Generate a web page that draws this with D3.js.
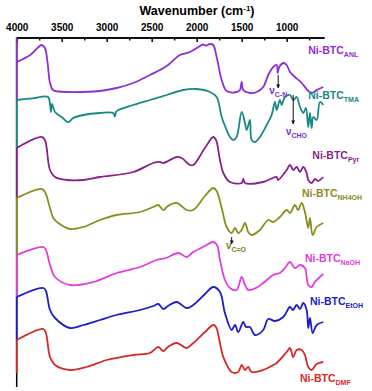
<!DOCTYPE html>
<html>
<head>
<meta charset="utf-8">
<script src="https://cdn.jsdelivr.net/npm/d3@7"></script>
<style>
  body { margin: 0; background: #fff; }
  svg { display: block; font-family: "Liberation Sans", Arial, sans-serif; font-weight: bold; }
</style>
</head>
<body>
<div id="chart"></div>
<script>
// FTIR spectra, stacked. [wavenumber (cm-1), transmittance (a.u., offset)]
const ANL = [[4000,323],[3850,330],[3722,340],[3686,337],[3658,323],[3630,302],[3597,295],[3540,293.5],[3444,293],[3075,294],[2889,297],[2705,302],[2519,310],[2333,319],[2186,330],[2075,333],[1963,339],[1930,340.5],[1896,339.5],[1852,341],[1816,340],[1778,328],[1722,305],[1667,294],[1556,293],[1519,295],[1500,303],[1482,295],[1408,292],[1333,293],[1260,298],[1205,310],[1149,318],[1111,320],[1100,312],[1082,318],[1037,322],[1000,320],[963,313],[908,308],[833,302],[760,294],[722,292],[667,295],[593,298]];
const TMA = [[4000,285],[3820,286.7],[3652,288],[3630,281],[3619,273],[3608,281],[3574,273],[3500,268],[3427,263],[3371,267],[3260,270],[3075,272],[2927,272],[2908,268.5],[2897,273],[2871,275],[2705,280],[2519,285],[2333,290],[2149,295],[2000,296],[1852,293],[1778,288],[1722,268],[1667,255],[1630,248],[1593,245],[1556,248],[1500,273],[1463,262],[1444,255],[1408,265],[1389,245],[1352,243],[1297,248],[1222,260],[1167,270],[1130,283],[1111,275],[1075,285],[1056,280],[1019,288],[963,290],[927,285],[889,288],[852,278],[815,272],[786,277],[760,258],[741,272],[722,257],[704,268],[667,265],[630,283],[593,280]];
const PYR = [[4000,237],[3722,248],[3686,245],[3630,215],[3574,208],[3444,205],[3260,205],[3075,208],[2705,213],[2482,222],[2408,223],[2371,222],[2222,228],[2167,227],[2075,220],[2038,220],[1908,237],[1816,248],[1785,245],[1741,225],[1704,212],[1630,203],[1500,202],[1482,206],[1463,202],[1260,203],[1111,208],[1097,205],[1000,215],[963,220],[927,215],[889,218],[852,213],[815,218],[778,212],[760,205],[722,202],[686,206],[652,204],[593,208]];
const NH4OH = [[4000,187],[3722,196],[3686,193],[3630,177],[3593,167],[3538,162],[3408,156],[3260,158],[3075,165],[2889,170],[2630,173],[2482,178],[2427,180],[2371,175],[2319,179],[2222,182],[2111,175],[2038,175],[1908,189],[1816,197],[1778,194],[1722,177],[1667,158],[1611,152],[1574,157],[1538,152],[1500,155],[1463,162],[1427,153],[1389,150],[1297,155],[1205,165],[1149,163],[1075,168],[1000,175],[963,172],[908,180],[874,175],[833,182],[797,173],[760,157],[741,167],[711,150],[667,158],[593,162]];
const NAOH = [[4000,130],[3704,138],[3675,135],[3630,120],[3574,108],[3408,100],[3149,103],[2889,112],[2630,118],[2444,125],[2341,127],[2205,132],[2111,128],[2038,133],[1908,139],[1816,143],[1774,140],[1741,125],[1686,105],[1630,97],[1556,95],[1500,108],[1463,100],[1427,95],[1341,97],[1260,102],[1149,110],[1075,112],[1019,117],[963,123],[908,117],[852,120],[797,117],[760,100],[722,98],[686,103],[593,111]];
const ETOH = [[4000,88],[3704,97],[3675,94],[3630,75],[3574,67],[3408,57],[3260,60],[3075,65],[2889,70],[2630,75],[2482,79],[2427,81],[2371,76],[2319,79],[2222,83],[2111,77],[2038,80],[1908,91],[1816,98],[1741,93],[1686,72],[1611,55],[1574,60],[1538,53],[1482,63],[1452,58],[1408,58],[1352,50],[1260,55],[1205,66],[1130,64],[1037,68],[963,78],[930,75],[889,80],[852,76],[815,82],[778,75],[760,57],[741,67],[711,52],[667,60],[593,63]];
const DMF = [[4000,45],[3704,56],[3675,52],[3630,28],[3574,20],[3408,15],[3222,18],[3000,25],[2705,30],[2519,32],[2427,38],[2371,34],[2319,38],[2222,42],[2111,37],[2038,42],[1908,53],[1816,60],[1785,58],[1704,28],[1611,13],[1538,13],[1500,20],[1463,15],[1427,18],[1389,13],[1260,15],[1149,20],[1111,22],[1000,33],[963,37],[927,28],[889,35],[833,35],[797,30],[760,18],[722,15],[667,21],[593,23]];

const seriesData = [ANL, TMA, PYR, NH4OH, NAOH, ETOH, DMF];
const seriesNames = ["ANL", "TMA", "Pyr", "NH4OH", "NaOH", "EtOH", "DMF"];
const majorTicks = [4000, 3500, 3000, 2500, 2000, 1500, 1000];
const minorTicks = [3750, 3250, 2750, 2250, 1750, 1250, 750];

// label anchors [wavenumber, a.u.]
const labelAt = [[760,331],[760,286],[715,226],[830,188],[797,123],[741,80],[852,3]];
const colors = ["#8e2fd6", "#168a84", "#8b1f8b", "#8c8c1c", "#e03ce0", "#1c1cc8", "#d62828"];

// band annotations: arrow at wavenumber from a.u. y1 to y2, text anchor
const bands = [
    { sub: "C-N", w: 1094, y1: 310, y2: 297, tw: 1194, ty: 291, color: "#7b2fbf" },
    { sub: "CHO", w: 927, y1: 290, y2: 261, tw: 1008, ty: 250, color: "#7b2fbf" },
    { sub: "C=O", w: 1611, y1: 148, y2: 141, tw: 1675, ty: 136, color: "#7d7d18" }
];

(function () {
    const width = 372, height = 391;
    const axisY = 37.5, axisBottom = 387;

    const svg = d3.select("#chart")
        .append("svg")
        .attr("width", width)
        .attr("height", height);

    const xScale = d3.scaleLinear().domain([4000, 585]).range([16.7, 324]);
    const yScale = d3.scaleLinear().domain([0, 343]).range([385, 42]);

    svg.append("defs").append("marker")
        .attr("id", "arrow")
        .attr("viewBox", "0 0 10 10")
        .attr("refX", 9).attr("refY", 5)
        .attr("markerWidth", 4).attr("markerHeight", 4)
        .attr("orient", "auto")
        .append("path")
        .attr("d", "M0,0 L10,5 L0,10 z")
        .attr("fill", "#111");

    // top axis, ticks pointing inward
    const xAxis = d3.axisTop(xScale).tickValues(majorTicks).tickSizeInner(-4.5).tickSizeOuter(0).tickPadding(6.5).tickFormat(d3.format("d"));
    const xMinor = d3.axisTop(xScale).tickValues(minorTicks).tickSizeInner(-3).tickSizeOuter(0).tickFormat("");

    const gx = svg.append("g").attr("transform", "translate(0," + axisY + ")").call(xAxis);
    svg.append("g").attr("transform", "translate(0," + axisY + ")").call(xMinor);
    svg.selectAll(".domain").attr("stroke", "#000").attr("stroke-width", 1.5);
    svg.selectAll(".tick line").attr("stroke", "#000").attr("stroke-width", 1.5);
    gx.selectAll("text").attr("font-size", "10px").attr("font-weight", "bold").attr("fill", "#000").attr("font-family", "Liberation Sans, Arial, sans-serif");

    const title = svg.append("text")
        .attr("x", 197).attr("y", 15)
        .attr("text-anchor", "middle")
        .attr("font-size", "12.5px");
    title.append("tspan").text("Wavenumber (cm");
    title.append("tspan").attr("dy", -4).attr("font-size", "8px").text("-1");
    title.append("tspan").attr("dy", 4).text(")");

    // left axis
    svg.append("line")
        .attr("x1", xScale(4000)).attr("x2", xScale(4000))
        .attr("y1", axisY).attr("y2", axisBottom)
        .attr("stroke", "#000").attr("stroke-width", 1.5);

    // coloured drop segments on the left axis
    seriesData.forEach(function (data, i) {
        const top = i === 0 ? axisY : yScale(data[0][1]);
        const bottom = i < seriesData.length - 1 ? yScale(seriesData[i + 1][0][1]) : yScale(12);
        svg.append("line")
            .attr("x1", xScale(4000)).attr("x2", xScale(4000))
            .attr("y1", top).attr("y2", bottom)
            .attr("stroke", colors[i]).attr("stroke-width", 1.8);
    });

    const line = d3.line()
        .x(d => xScale(d[0]))
        .y(d => yScale(d[1]))
        .curve(d3.curveCatmullRom.alpha(0.5));

    seriesData.forEach(function (data, i) {
        svg.append("path")
            .datum(data)
            .attr("d", line)
            .attr("fill", "none")
            .attr("stroke", colors[i])
            .attr("stroke-width", 1.8)
            .attr("stroke-linejoin", "round");

        const t = svg.append("text")
            .attr("x", xScale(labelAt[i][0]))
            .attr("y", yScale(labelAt[i][1]))
            .attr("fill", colors[i])
            .attr("font-size", "10.5px");
        t.append("tspan").text("Ni-BTC");
        t.append("tspan").attr("dy", 3).attr("font-size", "7px").text(seriesNames[i]);
    });

    // band assignments
    bands.forEach(function (b) {
        svg.append("line")
            .attr("x1", xScale(b.w)).attr("x2", xScale(b.w))
            .attr("y1", yScale(b.y1)).attr("y2", yScale(b.y2))
            .attr("stroke", "#111").attr("stroke-width", 1)
            .attr("marker-end", "url(#arrow)");
        const t = svg.append("text")
            .attr("x", xScale(b.tw))
            .attr("y", yScale(b.ty))
            .attr("fill", b.color)
            .attr("font-size", "10px");
        t.append("tspan").text("\u03bd");
        t.append("tspan").attr("dy", 3).attr("font-size", "7px").text(b.sub);
    });
})();
</script>
</body>
</html>
